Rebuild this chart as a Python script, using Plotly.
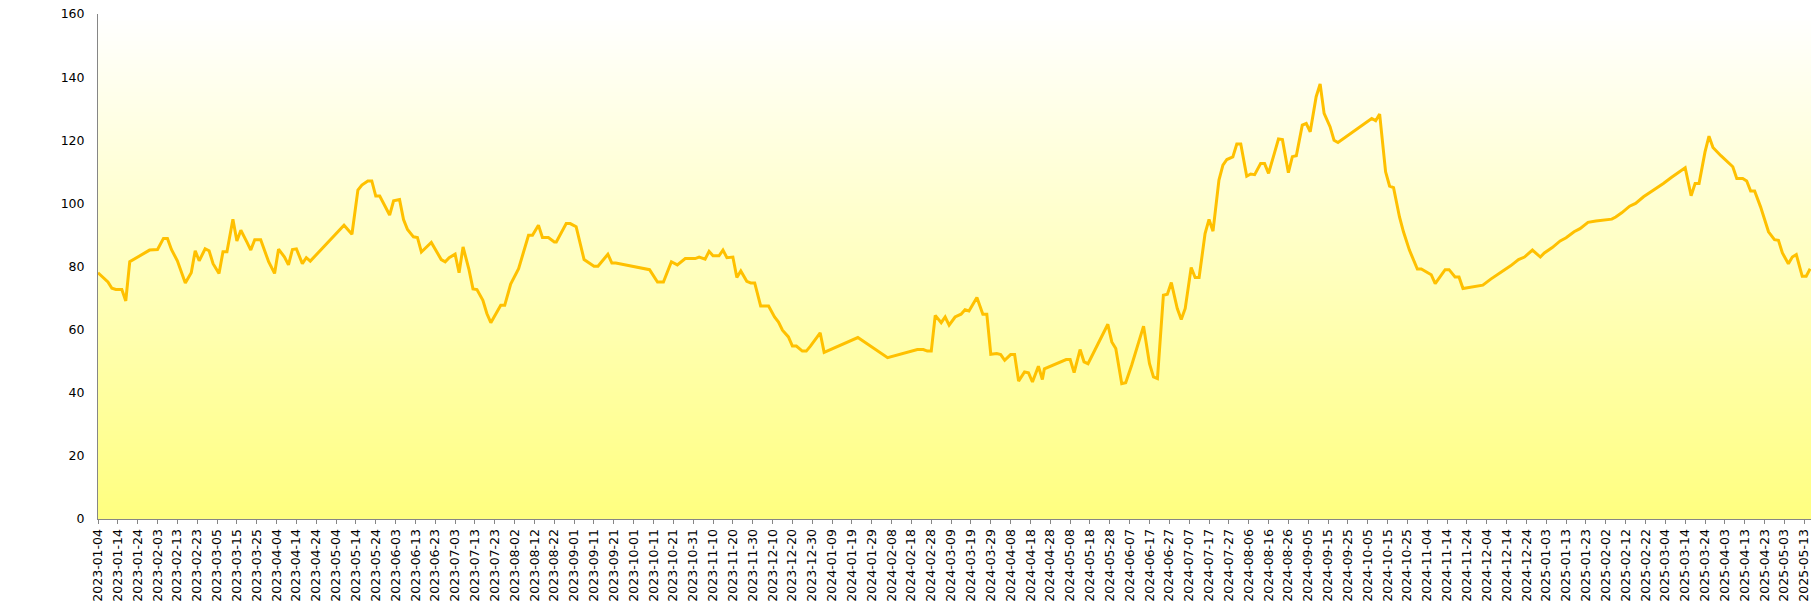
import base64, struct, zlib
import plotly.graph_objects as go

dates = [
    "2023-01-04", "2023-01-09", "2023-01-11", "2023-01-13", "2023-01-16", "2023-01-18", "2023-01-20", "2023-01-24",
    "2023-01-30", "2023-02-03", "2023-02-06", "2023-02-08", "2023-02-10", "2023-02-13", "2023-02-17", "2023-02-20",
    "2023-02-22", "2023-02-24", "2023-02-27", "2023-03-01", "2023-03-03", "2023-03-06", "2023-03-08", "2023-03-10",
    "2023-03-13", "2023-03-15", "2023-03-17", "2023-03-20", "2023-03-22", "2023-03-24", "2023-03-27", "2023-03-31",
    "2023-04-03", "2023-04-05", "2023-04-08", "2023-04-10", "2023-04-12", "2023-04-14", "2023-04-17", "2023-04-19",
    "2023-04-21", "2023-05-08", "2023-05-12", "2023-05-15", "2023-05-17", "2023-05-20", "2023-05-22", "2023-05-24",
    "2023-05-26", "2023-05-31", "2023-06-02", "2023-06-05", "2023-06-07", "2023-06-09", "2023-06-12", "2023-06-14",
    "2023-06-16", "2023-06-21", "2023-06-26", "2023-06-28", "2023-06-30", "2023-07-03", "2023-07-05", "2023-07-07",
    "2023-07-10", "2023-07-12", "2023-07-14", "2023-07-17", "2023-07-19", "2023-07-21", "2023-07-26", "2023-07-28",
    "2023-07-31", "2023-08-04", "2023-08-09", "2023-08-11", "2023-08-14", "2023-08-16", "2023-08-19", "2023-08-22",
    "2023-08-23", "2023-08-28", "2023-08-30", "2023-09-02", "2023-09-06", "2023-09-11", "2023-09-13", "2023-09-18",
    "2023-09-20", "2023-09-22", "2023-10-09", "2023-10-13", "2023-10-16", "2023-10-20", "2023-10-23", "2023-10-27",
    "2023-11-01", "2023-11-03", "2023-11-06", "2023-11-08", "2023-11-10", "2023-11-13", "2023-11-15", "2023-11-17",
    "2023-11-20", "2023-11-22", "2023-11-24", "2023-11-27", "2023-11-29", "2023-12-01", "2023-12-04", "2023-12-08",
    "2023-12-11", "2023-12-13", "2023-12-15", "2023-12-18", "2023-12-20", "2023-12-22", "2023-12-25", "2023-12-27",
    "2023-12-29", "2024-01-03", "2024-01-05", "2024-01-22", "2024-02-06", "2024-02-21", "2024-02-24", "2024-02-26",
    "2024-02-28", "2024-03-01", "2024-03-04", "2024-03-06", "2024-03-08", "2024-03-11", "2024-03-14", "2024-03-16",
    "2024-03-18", "2024-03-22", "2024-03-25", "2024-03-27", "2024-03-29", "2024-04-01", "2024-04-03", "2024-04-05",
    "2024-04-08", "2024-04-10", "2024-04-12", "2024-04-15", "2024-04-17", "2024-04-19", "2024-04-22", "2024-04-24",
    "2024-04-25", "2024-05-06", "2024-05-08", "2024-05-10", "2024-05-13", "2024-05-15", "2024-05-17", "2024-05-27",
    "2024-05-29", "2024-05-31", "2024-06-03", "2024-06-05", "2024-06-08", "2024-06-14", "2024-06-17", "2024-06-19",
    "2024-06-21", "2024-06-24", "2024-06-26", "2024-06-28", "2024-07-01", "2024-07-03", "2024-07-05", "2024-07-08",
    "2024-07-10", "2024-07-12", "2024-07-15", "2024-07-17", "2024-07-19", "2024-07-22", "2024-07-24", "2024-07-26",
    "2024-07-28", "2024-07-29", "2024-07-31", "2024-08-02", "2024-08-05", "2024-08-07", "2024-08-09", "2024-08-12",
    "2024-08-14", "2024-08-16", "2024-08-19", "2024-08-21", "2024-08-23", "2024-08-26", "2024-08-28", "2024-08-30",
    "2024-09-02", "2024-09-04", "2024-09-06", "2024-09-09", "2024-09-11", "2024-09-13", "2024-09-16", "2024-09-18",
    "2024-09-20", "2024-10-07", "2024-10-09", "2024-10-11", "2024-10-14", "2024-10-16", "2024-10-18", "2024-10-21",
    "2024-10-23", "2024-10-26", "2024-10-30", "2024-11-01", "2024-11-06", "2024-11-08", "2024-11-13", "2024-11-15",
    "2024-11-18", "2024-11-20", "2024-11-22", "2024-12-02", "2024-12-06", "2024-12-08", "2024-12-13", "2024-12-16",
    "2024-12-20", "2024-12-23", "2024-12-27", "2024-12-31", "2025-01-02", "2025-01-06", "2025-01-10", "2025-01-13",
    "2025-01-17", "2025-01-20", "2025-01-24", "2025-01-28", "2025-02-05", "2025-02-07", "2025-02-10", "2025-02-14",
    "2025-02-17", "2025-02-21", "2025-02-24", "2025-02-28", "2025-03-03", "2025-03-07", "2025-03-10", "2025-03-14",
    "2025-03-17", "2025-03-19", "2025-03-21", "2025-03-24", "2025-03-26", "2025-03-28", "2025-04-01", "2025-04-07",
    "2025-04-09", "2025-04-12", "2025-04-14", "2025-04-16", "2025-04-18", "2025-04-21", "2025-04-25", "2025-04-28",
    "2025-04-30", "2025-05-02", "2025-05-05", "2025-05-07", "2025-05-09", "2025-05-12", "2025-05-14", "2025-05-16",
]

values = [
    78.0, 75.1, 73.1, 72.7, 72.7, 69.1, 81.5, 83.0,
    85.2, 85.4, 88.9, 88.9, 85.4, 81.8, 74.8, 78.0,
    85.0, 81.8, 85.6, 85.0, 80.9, 77.8, 84.7, 84.7,
    95.0, 88.1, 91.5, 87.8, 85.2, 88.5, 88.5, 81.5,
    77.8, 85.5, 83.0, 80.5, 85.4, 85.6, 80.9, 82.8,
    81.7, 93.1, 90.2, 104.2, 105.8, 107.1, 107.1, 102.3,
    102.3, 96.3, 100.8, 101.2, 94.9, 91.7, 89.4, 89.2,
    84.6, 87.6, 82.2, 81.5, 82.8, 83.9, 78.0, 86.2,
    79.0, 72.9, 72.7, 69.3, 65.1, 62.2, 67.7, 67.7,
    74.4, 79.3, 89.9, 89.9, 93.1, 89.2, 89.2, 87.8,
    87.8, 93.6, 93.6, 92.6, 82.2, 80.1, 80.1, 83.9,
    81.1, 81.1, 79.0, 75.1, 75.1, 81.5, 80.5, 82.5,
    82.5, 83.0, 82.3, 84.8, 83.4, 83.4, 85.2, 82.8,
    83.0, 76.5, 78.6, 75.3, 74.8, 74.8, 67.5, 67.5,
    64.0, 62.4, 59.8, 57.7, 54.8, 54.8, 53.2, 53.2,
    54.7, 59.0, 52.8, 57.5, 51.1, 53.7, 53.7, 53.2,
    53.2, 64.5, 62.2, 64.0, 61.4, 64.0, 64.9, 66.3,
    65.9, 70.2, 64.9, 64.9, 52.2, 52.4, 52.1, 50.3,
    52.1, 52.1, 43.7, 46.6, 46.3, 43.4, 48.4, 44.2,
    47.6, 50.5, 50.5, 46.4, 53.7, 49.8, 49.2, 61.7,
    56.1, 54.0, 42.9, 43.2, 48.7, 61.1, 49.2, 45.0,
    44.5, 70.9, 71.2, 74.9, 66.7, 63.2, 66.7, 79.7,
    76.5, 76.5, 90.4, 94.9, 91.2, 107.4, 112.1, 113.9,
    114.5, 114.7, 118.8, 118.8, 108.6, 109.3, 109.1, 112.6,
    112.6, 109.5, 116.0, 120.4, 120.2, 109.7, 114.8, 115.1,
    124.8, 125.3, 122.7, 133.8, 137.8, 128.5, 124.3, 120.0,
    119.3, 126.9, 126.2, 128.3, 110.0, 105.5, 105.0, 95.7,
    91.0, 85.2, 79.2, 79.2, 77.4, 74.6, 79.0, 79.0,
    76.7, 76.7, 73.0, 74.1, 76.0, 76.9, 79.0, 80.2,
    82.2, 83.0, 85.2, 83.0, 84.3, 86.0, 88.1, 89.1,
    91.0, 92.0, 94.0, 94.4, 95.0, 95.7, 97.0, 99.1,
    100.0, 102.1, 103.3, 105.0, 106.3, 108.2, 109.5, 111.3,
    102.4, 106.3, 106.3, 116.3, 121.3, 117.7, 115.1, 111.6,
    107.9, 107.9, 107.1, 103.9, 103.9, 98.9, 91.0, 88.5,
    88.3, 84.3, 80.9, 83.0, 83.8, 76.9, 76.9, 79.3,
]

y_ticks = [0, 20, 40, 60, 80, 100, 120, 140, 160]


def gradient_png(top, bottom, n=256):
    rows = b""
    for i in range(n):
        t = i / (n - 1)
        c = bytes(int(round(top[k] + (bottom[k] - top[k]) * t)) for k in range(3))
        rows += b"\x00" + c
    def chunk(tag, data):
        return (struct.pack(">I", len(data)) + tag + data
                + struct.pack(">I", zlib.crc32(tag + data) & 0xFFFFFFFF))
    png = (b"\x89PNG\r\n\x1a\n"
           + chunk(b"IHDR", struct.pack(">IIBBBBB", 1, n, 8, 2, 0, 0, 0))
           + chunk(b"IDAT", zlib.compress(rows, 9))
           + chunk(b"IEND", b""))
    return "data:image/png;base64," + base64.b64encode(png).decode()


fig = go.Figure()
fig.add_trace(go.Scatter(
    x=dates, y=values, mode="lines",
    line=dict(color="#FFC000", width=3),
    hoverinfo="x+y", showlegend=False,
))

fig.add_layout_image(dict(
    source=gradient_png((255, 255, 255), (255, 255, 128)),
    xref="paper", yref="paper", x=0, y=1, sizex=1, sizey=1,
    xanchor="left", yanchor="top", sizing="stretch", layer="below",
))

tick_font = dict(family="DejaVu Sans, Verdana, sans-serif", size=12.5, color="#000000")

fig.update_layout(
    width=1819, height=614,
    margin=dict(l=98, r=8, t=14, b=95),
    paper_bgcolor="#FFFFFF",
    plot_bgcolor="rgba(0,0,0,0)",
    xaxis=dict(
        type="date", automargin=False,
        range=["2023-01-04", "2025-05-16 10:00"],
        tick0="2023-01-04", dtick=10 * 86400000,
        tickformat="%Y-%m-%d", tickangle=-90,
        showgrid=False, zeroline=False,
        showline=True, linecolor="#868686", linewidth=1,
        ticks="outside", ticklen=4, tickcolor="#868686",
        tickfont=tick_font, ticklabeloverflow="allow",
    ),
    yaxis=dict(
        automargin=False,
        range=[0, 160], tickvals=y_ticks,
        showgrid=False, zeroline=False,
        showline=True, linecolor="#868686", linewidth=1,
        ticks="", ticklabelstandoff=10,
        tickfont=tick_font, ticklabeloverflow="allow",
    ),
)

# remove the browser's default 8px body margin so the figure fills the window
fig.write_html(
    "out.html",
    config={"displayModeBar": False},
    post_script="document.body.style.margin='0';document.body.style.overflow='hidden';",
)
